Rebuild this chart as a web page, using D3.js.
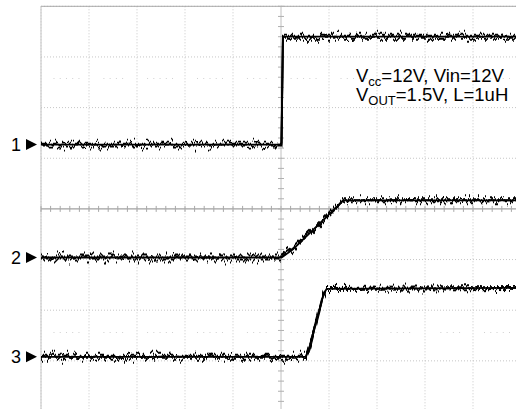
<!DOCTYPE html>
<html>
<head>
<meta charset="utf-8">
<script src="https://cdn.jsdelivr.net/npm/d3@7"></script>
<style>
  html, body { margin: 0; padding: 0; background: #fff; }
  svg { display: block; }
  text { font-family: "Liberation Sans", Arial, sans-serif; fill: #000; }
</style>
</head>
<body>
<script>
// Time axis in divisions (10 across), amplitude axis in divisions (8 tall, 0 = centre).
const timeDivs = d3.range(0, 11);
const ampDivs = d3.range(-4, 5);

// Channel waveforms as [time (div), level (div)] break points.
const ch1 = [[0, 1.27], [5.01, 1.27], [5.04, 3.4], [10, 3.4]];
const ch2 = [[0, -0.96], [5.01, -0.96], [5.25, -0.8], [6.28, 0.15], [6.32, 0.17], [10, 0.17]];
const ch3 = [[0, -2.92], [5.52, -2.92], [5.62, -2.65], [5.88, -1.7], [5.95, -1.58], [10, -1.56]];

// Channel reference markers (ground levels) on the left edge.
const markerLabels = ["1", "2", "3"];
const markerLevels = [1.27, -0.96, -2.92];

// Rise-time reference dot rows.
const refRows = [2.575, -2.44];

const W = 516, H = 409;
const svg = d3.select("body").append("svg").attr("width", W).attr("height", H);
svg.append("rect").attr("width", W).attr("height", H).attr("fill", "#fff");

const x = d3.scaleLinear().domain([0, 10]).range([41, 521]);
const y = d3.scaleLinear().domain([-4, 4]).range([411.5, 6.3]);

// Trace noise: displacement only along y, varying quickly along x.
const defs = svg.append("defs");
function jitter(id, freq, seed, scale) {
  const f = defs.append("filter").attr("id", id)
    .attr("x", "-2%").attr("y", "-30%").attr("width", "104%").attr("height", "160%");
  f.append("feTurbulence").attr("type", "fractalNoise")
    .attr("baseFrequency", freq).attr("numOctaves", 2).attr("seed", seed).attr("result", "n");
  f.append("feColorMatrix").attr("in", "n").attr("type", "matrix")
    .attr("values", "0 0 0 0 0.5  0 1.6 0 0 -0.3  0 0 0 0 0  0 0 0 0 1").attr("result", "m");
  f.append("feDisplacementMap").attr("in", "SourceGraphic").attr("in2", "m")
    .attr("scale", scale).attr("xChannelSelector", "R").attr("yChannelSelector", "G");
}
jitter("jitterA", "0.45 0.01", 4, 13);
jitter("jitterB", "0.3 0.01", 11, 9);

const grid = svg.append("g");

// Dotted graticule
grid.selectAll("line.v").data(timeDivs.filter(t => t !== 5)).join("line")
  .attr("x1", d => x(d)).attr("x2", d => x(d)).attr("y1", y(4)).attr("y2", y(-4))
  .attr("stroke", "#c6c6c6").attr("stroke-width", 1).attr("stroke-dasharray", "1,2");
grid.selectAll("line.h").data(ampDivs.filter(d => d !== 0)).join("line")
  .attr("x1", x(0)).attr("x2", x(10)).attr("y1", d => y(d)).attr("y2", d => y(d))
  .attr("stroke", "#c6c6c6").attr("stroke-width", 1).attr("stroke-dasharray", "1,2");

// Border
grid.append("line").attr("x1", x(0)).attr("x2", x(10)).attr("y1", y(4)).attr("y2", y(4))
  .attr("stroke", "#a8a8a8");
grid.append("line").attr("x1", x(0)).attr("x2", x(0)).attr("y1", y(4)).attr("y2", y(-4))
  .attr("stroke", "#c4c4c4");

// Reference dot rows
refRows.forEach(r => {
  const pts = d3.range(0, 10, 0.13).filter(t => Math.abs(t - Math.round(t)) > 0.2);
  grid.selectAll(null).data(pts).join("rect")
    .attr("x", d => x(d)).attr("y", y(r) - 0.5).attr("width", 1).attr("height", 1)
    .attr("fill", "#cfcfcf");
});

// Centre axes with minor ticks
const minor = d3.range(0, 10.01, 0.2);
const minorY = d3.range(-4, 4.01, 0.2);
grid.append("line").attr("x1", x(0)).attr("x2", x(10)).attr("y1", y(0)).attr("y2", y(0))
  .attr("stroke", "#a0a0a0").attr("stroke-width", 1.2);
grid.selectAll("line.tx").data(minor).join("line")
  .attr("x1", d => x(d)).attr("x2", d => x(d)).attr("y1", y(0) - 3).attr("y2", y(0) + 3)
  .attr("stroke", "#a8a8a8");
grid.append("line").attr("x1", x(5)).attr("x2", x(5)).attr("y1", y(4)).attr("y2", y(-4))
  .attr("stroke", "#c0c0c0").attr("stroke-width", 1);
grid.selectAll("line.ty").data(minorY).join("line")
  .attr("x1", x(5) - 3).attr("x2", x(5) + 3).attr("y1", d => y(d)).attr("y2", d => y(d))
  .attr("stroke", "#b0b0b0");

// Traces: a solid core plus two jittered passes for the sampling noise
const line = d3.line().x(d => x(d[0])).y(d => y(d[1]));
[ch1, ch2, ch3].forEach(ch => {
  svg.append("path").attr("d", line(ch)).attr("fill", "none")
    .attr("stroke", "#000").attr("stroke-width", 1.9).attr("filter", "url(#jitterA)");
  svg.append("path").attr("d", line(ch)).attr("fill", "none")
    .attr("stroke", "#000").attr("stroke-width", 1.9).attr("filter", "url(#jitterB)");
  svg.append("path").attr("d", line(ch)).attr("fill", "none")
    .attr("stroke", "#000").attr("stroke-width", 1.8);
});

// Channel markers
markerLabels.forEach((lab, i) => {
  const yy = y(markerLevels[i]);
  svg.append("text").attr("x", 11).attr("y", yy + 6.5)
    .attr("font-size", 18).text(lab);
  svg.append("path")
    .attr("d", d3.line()([[26, yy - 5.5], [37, yy], [26, yy + 5.5]]) + "Z")
    .attr("fill", "#000");
});

// Test conditions
const note = svg.append("text").attr("font-size", 18.5);
const l1 = note.append("tspan").attr("x", 356).attr("y", 82);
l1.append("tspan").text("V");
l1.append("tspan").attr("font-size", 13).attr("dy", 4).text("cc");
l1.append("tspan").attr("dy", -4).text("=12V, Vin=12V");
const l2 = note.append("tspan").attr("x", 356).attr("y", 101);
l2.append("tspan").text("V");
l2.append("tspan").attr("font-size", 13).attr("dy", 4).text("OUT");
l2.append("tspan").attr("dy", -4).text("=1.5V, L=1uH");
</script>
</body>
</html>
